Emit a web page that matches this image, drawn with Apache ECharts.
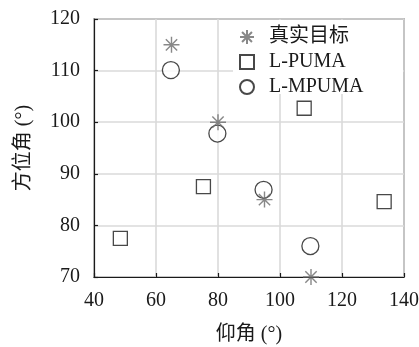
<!DOCTYPE html>
<html>
<head>
<meta charset="utf-8">
<script src="https://cdn.jsdelivr.net/npm/echarts@6/dist/echarts.min.js"></script>
<style>
  html, body { margin: 0; padding: 0; background: #fff; }
  #chart { width: 419px; height: 347px; }
</style>
</head>
<body>
<div id="chart"></div>
<script>
// Elevation / azimuth estimates (degrees)
const seriesNames = ['真实目标', 'L-PUMA', 'L-MPUMA'];
const trueTargets = [[65, 115], [80, 100], [95, 85], [110, 70]];
const lPuma = [[48.5, 77.5], [75.3, 87.5], [107.8, 102.7], [133.6, 84.6]];
const lMpuma = [[64.8, 110.1], [79.8, 97.8], [94.7, 86.9], [109.8, 76.0]];
const xTicks = [40, 60, 80, 100, 120, 140];
const yTicks = [70, 80, 90, 100, 110, 120];
const xName = '仰角 (°)';
const yName = '方位角 (°)';

const FONT = '"Liberation Serif", "Noto Sans CJK SC", serif';
const INK = '#1a1a1a';
const asterisk = 'path://M0,5L10,5M5,0L5,10M1.46,1.46L8.54,8.54M8.54,1.46L1.46,8.54';
const square = 'path://M0,0L10,0L10,10L0,10Z';

const chart = echarts.init(document.getElementById('chart'), null, { renderer: 'canvas' });

const axisCommon = {
  axisLine: { show: true, lineStyle: { color: INK, width: 1.2 } },
  axisTick: { show: true, inside: true, length: 4, lineStyle: { color: INK, width: 1.2 } },
  splitLine: { show: true, lineStyle: { color: '#dadada', width: 1.6 } },
  axisLabel: { color: INK, fontFamily: FONT, fontSize: 20 },
  nameTextStyle: { color: INK, fontFamily: FONT, fontSize: 20 }
};

chart.setOption({
  animation: false,
  backgroundColor: '#fff',
  grid: {
    left: 94, top: 19, right: 15, bottom: 70,
    containLabel: false, outerBoundsMode: 'none',
    show: true, borderColor: INK, borderWidth: 1.2, backgroundColor: 'transparent'
  },
  // white panel behind the legend, hiding the grid lines there
  graphic: [{
    type: 'rect', z: 1, silent: true,
    shape: { x: 233, y: 20, width: 170, height: 74 },
    style: { fill: '#fff' }
  }],
  xAxis: Object.assign({}, axisCommon, {
    type: 'value',
    min: xTicks[0], max: xTicks[xTicks.length - 1], interval: xTicks[1] - xTicks[0],
    name: xName, nameLocation: 'middle', nameGap: 48,
    axisLabel: Object.assign({}, axisCommon.axisLabel, { margin: 14 })
  }),
  yAxis: Object.assign({}, axisCommon, {
    type: 'value',
    min: yTicks[0], max: yTicks[yTicks.length - 1], interval: yTicks[1] - yTicks[0],
    name: yName, nameLocation: 'middle', nameGap: 60, nameRotate: 90,
    axisLabel: Object.assign({}, axisCommon.axisLabel, { margin: 14 })
  }),
  legend: {
    orient: 'vertical',
    left: 239, top: 19,
    padding: [8, 4, 0, 0],
    itemWidth: 34, itemHeight: 14, itemGap: 5,
    data: [
      { name: seriesNames[0], icon: asterisk },
      { name: seriesNames[1], icon: square },
      { name: seriesNames[2], icon: 'circle' }
    ],
    textStyle: { color: INK, fontFamily: FONT, fontSize: 20, lineHeight: 20 }
  },
  series: [
    {
      name: 'L-PUMA', type: 'scatter', data: lPuma, z: 2,
      symbol: square, symbolSize: 14,
      itemStyle: { color: '#fff', borderColor: INK, borderWidth: 1.3 }
    },
    {
      name: 'L-MPUMA', type: 'scatter', data: lMpuma, z: 3,
      symbol: 'circle', symbolSize: 17,
      itemStyle: { color: '#fff', borderColor: INK, borderWidth: 1.3 }
    },
    {
      name: '真实目标', type: 'scatter', data: trueTargets, z: 4,
      symbol: asterisk, symbolSize: 16,
      itemStyle: { color: 'transparent', borderColor: '#6a6a6a', borderWidth: 1.4 }
    }
  ]
});
</script>
</body>
</html>
